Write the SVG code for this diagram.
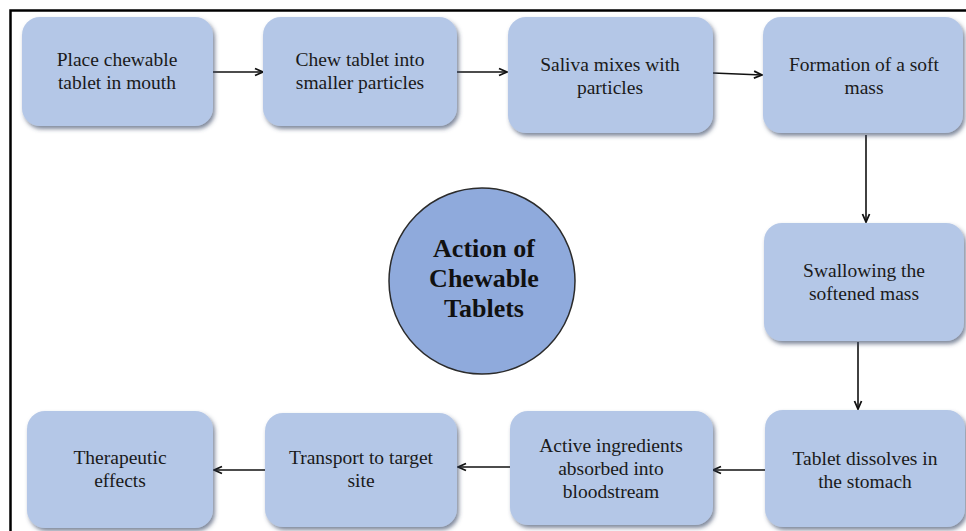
<svg xmlns="http://www.w3.org/2000/svg" width="966" height="531" viewBox="0 0 966 531">
<defs>
<style>
.node rect{fill:#b4c7e7;filter:url(#sh)}
.node text{font-family:"Liberation Serif","Times New Roman",serif;font-size:19.5px;fill:#1a1a1a;text-anchor:middle}
.title{font-family:"Liberation Serif","Times New Roman",serif;font-size:26px;font-weight:bold;fill:#111;text-anchor:middle}
#connectors line{stroke:#111;stroke-width:1.6;marker-end:url(#ah)}
</style>
<filter id="sh" x="-10%" y="-10%" width="125%" height="130%">
<feDropShadow dx="2" dy="3" stdDeviation="2" flood-color="#3a4a66" flood-opacity="0.65"/>
</filter>
<marker id="ah" viewBox="0 0 10 10" refX="9" refY="5" markerWidth="10" markerHeight="10" markerUnits="userSpaceOnUse" orient="auto">
<path d="M1,1.5 L9,5 L1,8.5" fill="none" stroke="#111" stroke-width="1.8"/>
</marker>
</defs>
<rect x="0" y="0" width="966" height="531" fill="#ffffff"/>
<rect x="10.5" y="10.5" width="975" height="540" fill="none" stroke="#000" stroke-width="2.5"/>

<g id="connectors">
<line x1="213" y1="72" x2="263" y2="72"/>
<line x1="457" y1="72" x2="507" y2="72"/>
<line x1="713" y1="73" x2="762" y2="75"/>
<line x1="866" y1="135" x2="866" y2="222"/>
<line x1="858" y1="342" x2="858" y2="409"/>
<line x1="765" y1="470" x2="713" y2="470"/>
<line x1="510" y1="467" x2="458" y2="467"/>
<line x1="265" y1="470" x2="214" y2="470"/>
</g>

<g id="n1" class="node"><rect x="22" y="17" width="191" height="109" rx="18"/>
<text x="117" y="66">Place chewable</text><text x="117" y="89">tablet in mouth</text></g>
<g id="n2" class="node"><rect x="263" y="17" width="194" height="109" rx="18"/>
<text x="360" y="66">Chew tablet into</text><text x="360" y="89">smaller particles</text></g>
<g id="n3" class="node"><rect x="508" y="17" width="205" height="116" rx="18"/>
<text x="610" y="71">Saliva mixes with</text><text x="610" y="94">particles</text></g>
<g id="n4" class="node"><rect x="763" y="17" width="200" height="116" rx="18"/>
<text x="864" y="71">Formation of a soft</text><text x="864" y="94">mass</text></g>
<g id="n5" class="node"><rect x="764" y="223" width="200" height="118" rx="18"/>
<text x="864" y="277">Swallowing the</text><text x="864" y="300">softened mass</text></g>
<g id="n6" class="node"><rect x="765" y="410" width="200" height="117" rx="18"/>
<text x="865" y="465">Tablet dissolves in</text><text x="865" y="488">the stomach</text></g>
<g id="n7" class="node"><rect x="510" y="411" width="203" height="114" rx="18"/>
<text x="611" y="452">Active ingredients</text><text x="611" y="475">absorbed into</text><text x="611" y="498">bloodstream</text></g>
<g id="n8" class="node"><rect x="265" y="413" width="192" height="114" rx="18"/>
<text x="361" y="464">Transport to target</text><text x="361" y="487">site</text></g>
<g id="n9" class="node"><rect x="27" y="411" width="186" height="117" rx="18"/>
<text x="120" y="464">Therapeutic</text><text x="120" y="487">effects</text></g>

<g id="center">
<circle cx="482" cy="281" r="93" fill="#8faadc" stroke="#2b2b2b" stroke-width="1.5"/>
<text class="title" x="484" y="257">Action of</text>
<text class="title" x="484" y="287">Chewable</text>
<text class="title" x="484" y="317">Tablets</text>
</g>
</svg>
